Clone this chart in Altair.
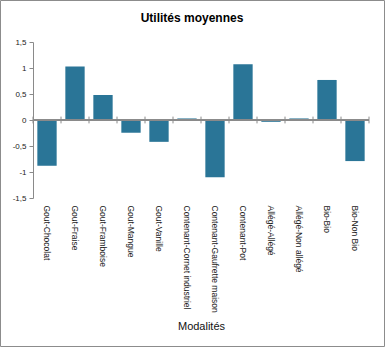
import altair as alt
import pandas as pd

categories = ["Gout-Chocolat", "Gout-Fraise", "Gout-Framboise", "Gout-Mangue", "Gout-Vanille",
              "Contenant-Cornet industriel", "Contenant-Gaufrette maison", "Contenant-Pot",
              "Allégé-Allégé", "Allégé-Non allégé", "Bio-Bio", "Bio-Non Bio"]
values = [-0.88, 1.03, 0.48, -0.245, -0.42, 0.03, -1.10, 1.07, -0.035, 0.03, 0.77, -0.79]
y_domain = [-1.5, 1.5]
y_tick_count = 7
title_text = "Utilités moyennes"

df = pd.DataFrame({"Modalités": categories, "Utilité": values})

W, H = 336, 156
FONT = "Liberation Sans"
GREY = "#8a8a8a"

xscale = alt.Scale(domain=categories, paddingInner=0, paddingOuter=0)
yscale = alt.Scale(domain=y_domain, nice=False, zero=False)

base = alt.Chart(df)

bars = base.mark_bar(color="#2a7597", width=alt.RelativeBandSize(0.69)).encode(
    x=alt.X("Modalités:N", scale=xscale, sort=categories, title="Modalités"),
    y=alt.Y("Utilité:Q", scale=yscale, title=None,
            axis=alt.Axis(tickCount=y_tick_count, labelOverlap=False)),
)

zero_line = base.mark_rule(color=GREY, strokeWidth=1).encode(y=alt.datum(0))

bound_ticks = base.mark_rule(color=GREY, strokeWidth=1).encode(
    x=alt.X("Modalités:N", scale=xscale, sort=categories, bandPosition=0),
    y=alt.datum(0.065), y2=alt.datum(-0.065),
)
end_tick = base.transform_filter(alt.datum["Modalités"] == categories[-1]).mark_rule(
    color=GREY, strokeWidth=1).encode(
    x=alt.X("Modalités:N", scale=xscale, sort=categories, bandPosition=1),
    y=alt.datum(0.065), y2=alt.datum(-0.065),
)

one = base.transform_aggregate(n="count()")

border = one.mark_rect(fill=None, stroke="#8c8c8c", strokeWidth=1).encode(
    x=alt.value(-32.5), x2=alt.value(351.5), y=alt.value(-41.5), y2=alt.value(304.5))

title = one.mark_text(text=title_text, font=FONT, fontSize=12, fontWeight="bold",
                      color="#000000", align="center", baseline="alphabetic").encode(
    x=alt.value(159), y=alt.value(-20))

chart = alt.layer(bars, zero_line, bound_ticks, end_tick, border, title).properties(
    width=W, height=H,
    autosize=alt.AutoSizeParams(type="none"),
    padding={"left": 33, "top": 42, "right": 16, "bottom": 149},
).configure(background="white").configure_view(stroke=None).configure_axisX(
    labelAngle=90, domain=False, ticks=False, tickSize=0,
    labelPadding=7, labelFont=FONT, labelFontSize=8.5, labelColor="#222222",
    titleFont=FONT, titleFontSize=11, titleFontWeight="normal",
    titleColor="#111111", titlePadding=8, labelLimit=0, grid=False,
).configure_axisY(
    grid=False, domainColor=GREY, tickColor=GREY,
    tickSize=4, labelPadding=3, labelFont=FONT, labelFontSize=8,
    labelColor="#222222", labelOverlap=False, labelFlush=False, labelBound=False,
    labelExpr="(datum.value < 0 ? '-' : '') + replace(format(abs(datum.value), '~g'), '.', ',')",
)

chart.save("out.html", embed_options={"renderer": "svg", "actions": False})
